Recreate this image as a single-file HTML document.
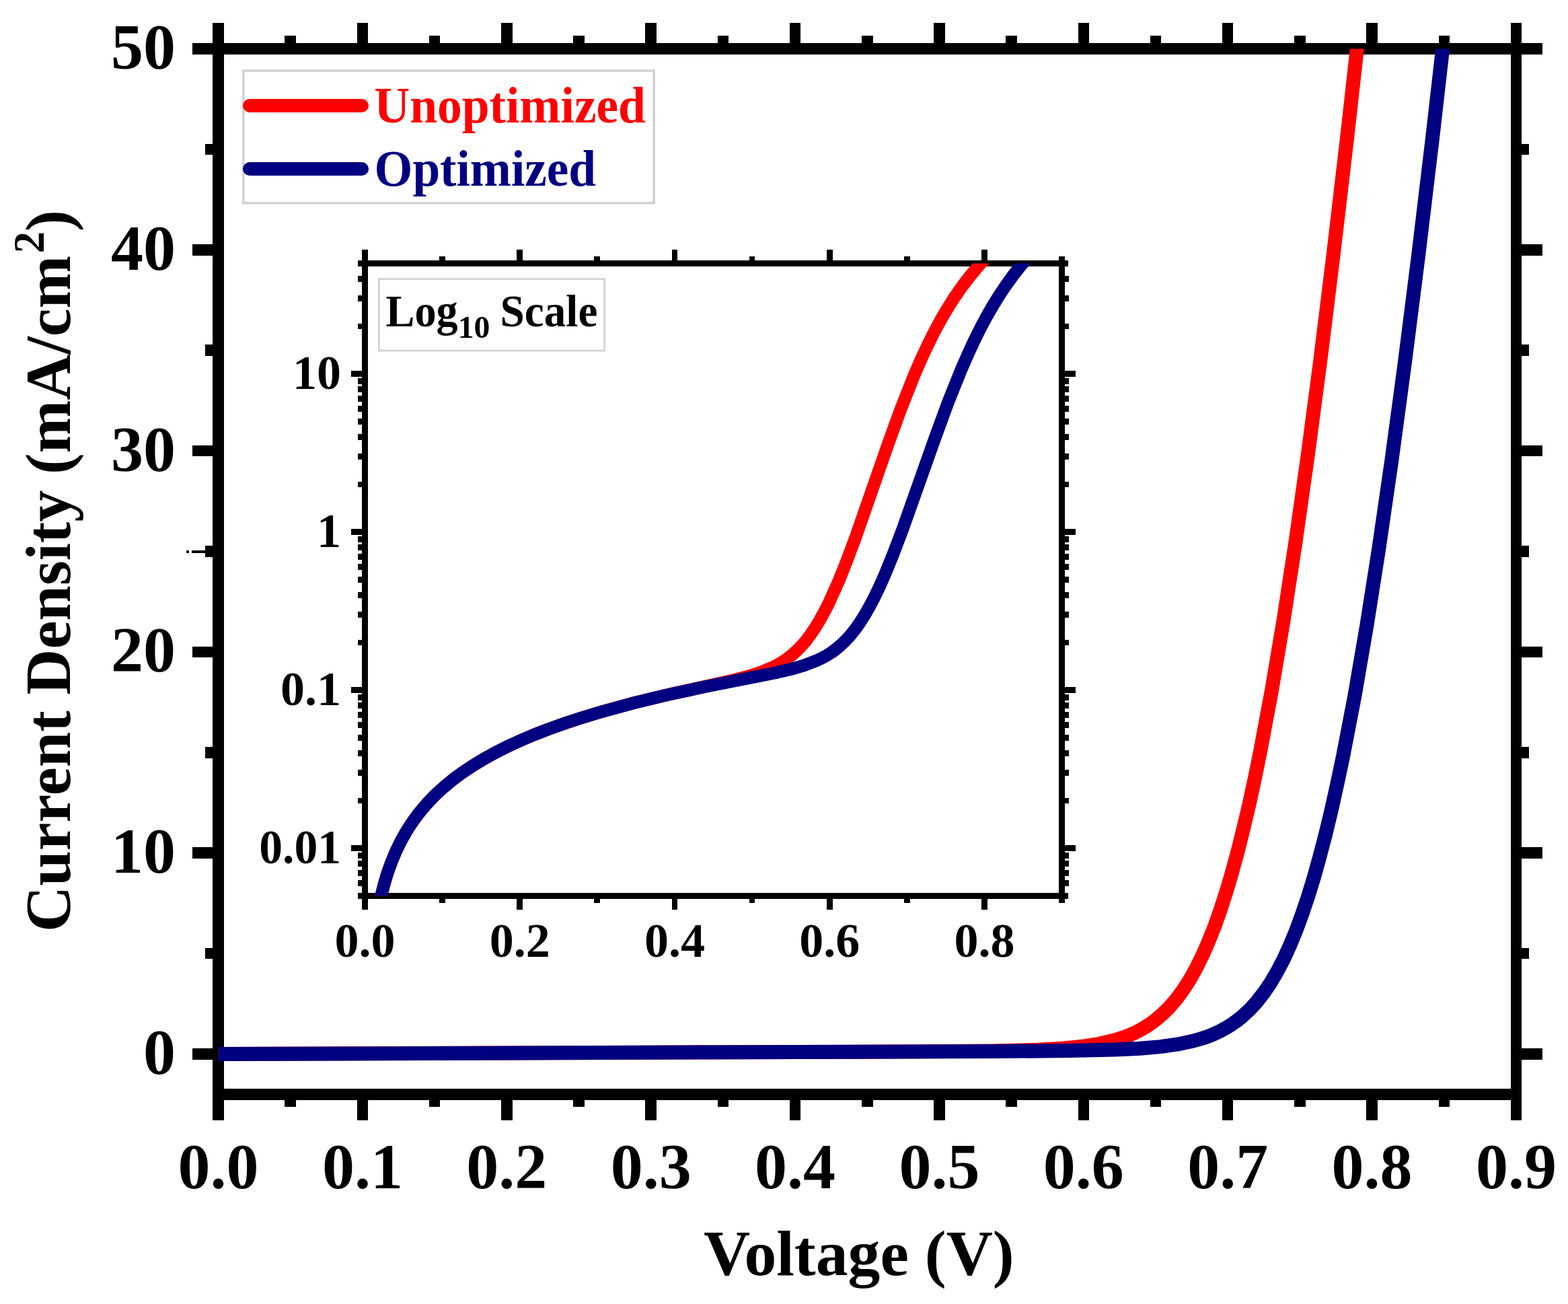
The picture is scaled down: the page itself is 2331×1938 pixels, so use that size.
<!DOCTYPE html>
<html><head><meta charset="utf-8"><title>J-V curves</title>
<style>html,body{margin:0;padding:0;background:#fff;} svg{display:block;}</style>
</head><body>
<svg width="2331" height="1938" viewBox="0 0 2331 1938"><rect width="100%" height="100%" fill="#fff"/><defs><clipPath id="cm"><rect x="324.5" y="72.5" width="1929.5" height="1554"/></clipPath><clipPath id="ci"><rect x="542.5" y="391.5" width="1036" height="940"/></clipPath></defs>
<rect x="316.00" y="34.00" width="17.00" height="1631.00" fill="#000"/>
<rect x="2246.00" y="34.00" width="16.00" height="1631.00" fill="#000"/>
<rect x="286.00" y="64.00" width="2007.00" height="17.00" fill="#000"/>
<rect x="316.00" y="1618.00" width="1946.00" height="17.00" fill="#000"/>
<rect x="531.00" y="34.00" width="16.00" height="30.00" fill="#000"/>
<rect x="531.00" y="1635.00" width="16.00" height="30.00" fill="#000"/>
<rect x="745.00" y="34.00" width="17.00" height="30.00" fill="#000"/>
<rect x="745.00" y="1635.00" width="17.00" height="30.00" fill="#000"/>
<rect x="959.00" y="34.00" width="17.00" height="30.00" fill="#000"/>
<rect x="959.00" y="1635.00" width="17.00" height="30.00" fill="#000"/>
<rect x="1174.00" y="34.00" width="16.00" height="30.00" fill="#000"/>
<rect x="1174.00" y="1635.00" width="16.00" height="30.00" fill="#000"/>
<rect x="1388.00" y="34.00" width="17.00" height="30.00" fill="#000"/>
<rect x="1388.00" y="1635.00" width="17.00" height="30.00" fill="#000"/>
<rect x="1603.00" y="34.00" width="16.00" height="30.00" fill="#000"/>
<rect x="1603.00" y="1635.00" width="16.00" height="30.00" fill="#000"/>
<rect x="1817.00" y="34.00" width="16.00" height="30.00" fill="#000"/>
<rect x="1817.00" y="1635.00" width="16.00" height="30.00" fill="#000"/>
<rect x="2031.00" y="34.00" width="17.00" height="30.00" fill="#000"/>
<rect x="2031.00" y="1635.00" width="17.00" height="30.00" fill="#000"/>
<rect x="423.00" y="53.00" width="17.00" height="11.00" fill="#000"/>
<rect x="423.00" y="1635.00" width="17.00" height="10.00" fill="#000"/>
<rect x="638.00" y="53.00" width="16.00" height="11.00" fill="#000"/>
<rect x="638.00" y="1635.00" width="16.00" height="10.00" fill="#000"/>
<rect x="852.00" y="53.00" width="17.00" height="11.00" fill="#000"/>
<rect x="852.00" y="1635.00" width="17.00" height="10.00" fill="#000"/>
<rect x="1067.00" y="53.00" width="16.00" height="11.00" fill="#000"/>
<rect x="1067.00" y="1635.00" width="16.00" height="10.00" fill="#000"/>
<rect x="1281.00" y="53.00" width="17.00" height="11.00" fill="#000"/>
<rect x="1281.00" y="1635.00" width="17.00" height="10.00" fill="#000"/>
<rect x="1495.00" y="53.00" width="17.00" height="11.00" fill="#000"/>
<rect x="1495.00" y="1635.00" width="17.00" height="10.00" fill="#000"/>
<rect x="1710.00" y="53.00" width="16.00" height="11.00" fill="#000"/>
<rect x="1710.00" y="1635.00" width="16.00" height="10.00" fill="#000"/>
<rect x="1924.00" y="53.00" width="17.00" height="11.00" fill="#000"/>
<rect x="1924.00" y="1635.00" width="17.00" height="10.00" fill="#000"/>
<rect x="2139.00" y="53.00" width="16.00" height="11.00" fill="#000"/>
<rect x="2139.00" y="1635.00" width="16.00" height="10.00" fill="#000"/>
<rect x="286.00" y="1558.00" width="30.00" height="17.00" fill="#000"/>
<rect x="2262.00" y="1558.00" width="31.00" height="17.00" fill="#000"/>
<rect x="286.00" y="1259.00" width="30.00" height="17.00" fill="#000"/>
<rect x="2262.00" y="1259.00" width="31.00" height="17.00" fill="#000"/>
<rect x="286.00" y="961.00" width="30.00" height="16.00" fill="#000"/>
<rect x="2262.00" y="961.00" width="31.00" height="16.00" fill="#000"/>
<rect x="286.00" y="662.00" width="30.00" height="16.00" fill="#000"/>
<rect x="2262.00" y="662.00" width="31.00" height="16.00" fill="#000"/>
<rect x="286.00" y="363.00" width="30.00" height="17.00" fill="#000"/>
<rect x="2262.00" y="363.00" width="31.00" height="17.00" fill="#000"/>
<rect x="305.00" y="1409.00" width="11.00" height="16.00" fill="#000"/>
<rect x="2262.00" y="1409.00" width="11.00" height="16.00" fill="#000"/>
<rect x="305.00" y="1110.00" width="11.00" height="17.00" fill="#000"/>
<rect x="2262.00" y="1110.00" width="11.00" height="17.00" fill="#000"/>
<rect x="305.00" y="811.00" width="11.00" height="17.00" fill="#000"/>
<rect x="2262.00" y="811.00" width="11.00" height="17.00" fill="#000"/>
<rect x="305.00" y="512.00" width="11.00" height="17.00" fill="#000"/>
<rect x="2262.00" y="512.00" width="11.00" height="17.00" fill="#000"/>
<rect x="305.00" y="214.00" width="11.00" height="16.00" fill="#000"/>
<rect x="2262.00" y="214.00" width="11.00" height="16.00" fill="#000"/>
<path clip-path="url(#cm)" d="M303.1,1566.6 L1370.1,1562.8 L1477.2,1561.9 L1543.0,1560.2 L1579.0,1558.2 L1608.8,1555.3 L1634.3,1551.3 L1656.7,1546.1 L1667.0,1542.9 L1676.8,1539.3 L1686.1,1535.3 L1695.0,1530.8 L1703.5,1525.9 L1711.6,1520.5 L1719.4,1514.6 L1727.1,1508.1 L1738.2,1497.2 L1748.9,1484.8 L1759.1,1470.9 L1768.9,1455.6 L1778.4,1438.6 L1787.7,1419.7 L1796.7,1399.2 L1805.6,1376.9 L1814.3,1352.2 L1822.9,1325.7 L1831.5,1296.7 L1840.0,1265.4 L1848.3,1232.3 L1856.8,1196.3 L1865.2,1157.8 L1873.5,1117.0 L1890.6,1025.7 L1908.1,921.8 L1925.8,806.5 L1944.1,677.4 L1963.0,534.1 L1982.4,376.7 L2002.8,203.1 L2024.0,13.1" fill="none" stroke="#ff0000" stroke-width="21" stroke-linejoin="round"/>
<path clip-path="url(#cm)" d="M303.1,1566.6 L1478.3,1562.5 L1589.4,1561.6 L1656.7,1560.1 L1694.2,1558.3 L1724.9,1555.6 L1751.1,1551.9 L1774.0,1547.0 L1784.7,1544.0 L1794.7,1540.7 L1804.2,1536.9 L1813.2,1532.8 L1821.9,1528.1 L1830.2,1523.0 L1838.2,1517.4 L1845.9,1511.4 L1857.4,1500.8 L1868.4,1488.8 L1878.9,1475.3 L1889.1,1460.3 L1898.9,1443.5 L1908.5,1425.1 L1917.7,1404.9 L1926.8,1382.9 L1935.8,1358.4 L1944.7,1332.0 L1953.4,1303.6 L1962.0,1272.7 L1970.7,1239.5 L1979.3,1203.7 L1987.8,1165.5 L1996.4,1125.0 L2013.9,1033.9 L2031.8,929.9 L2050.0,814.0 L2068.9,683.7 L2088.2,540.4 L2108.5,380.4 L2129.4,205.9 L2151.3,14.4" fill="none" stroke="#000080" stroke-width="21" stroke-linejoin="round"/>
<rect x="285.00" y="818.00" width="20.00" height="4.00" fill="#000"/>
<rect x="277.00" y="818.00" width="4.00" height="4.00" fill="#000"/>
<text x="324.50" y="1766" text-anchor="middle" font-size="96" font-family="'Liberation Serif', 'Times New Roman', serif" font-weight="bold">0.0</text>
<text x="538.89" y="1766" text-anchor="middle" font-size="96" font-family="'Liberation Serif', 'Times New Roman', serif" font-weight="bold">0.1</text>
<text x="753.28" y="1766" text-anchor="middle" font-size="96" font-family="'Liberation Serif', 'Times New Roman', serif" font-weight="bold">0.2</text>
<text x="967.67" y="1766" text-anchor="middle" font-size="96" font-family="'Liberation Serif', 'Times New Roman', serif" font-weight="bold">0.3</text>
<text x="1182.06" y="1766" text-anchor="middle" font-size="96" font-family="'Liberation Serif', 'Times New Roman', serif" font-weight="bold">0.4</text>
<text x="1396.44" y="1766" text-anchor="middle" font-size="96" font-family="'Liberation Serif', 'Times New Roman', serif" font-weight="bold">0.5</text>
<text x="1610.83" y="1766" text-anchor="middle" font-size="96" font-family="'Liberation Serif', 'Times New Roman', serif" font-weight="bold">0.6</text>
<text x="1825.22" y="1766" text-anchor="middle" font-size="96" font-family="'Liberation Serif', 'Times New Roman', serif" font-weight="bold">0.7</text>
<text x="2039.61" y="1766" text-anchor="middle" font-size="96" font-family="'Liberation Serif', 'Times New Roman', serif" font-weight="bold">0.8</text>
<text x="2254.00" y="1766" text-anchor="middle" font-size="96" font-family="'Liberation Serif', 'Times New Roman', serif" font-weight="bold">0.9</text>
<text x="261" y="1596.00" text-anchor="end" font-size="96" font-family="'Liberation Serif', 'Times New Roman', serif" font-weight="bold">0</text>
<text x="261" y="1297.20" text-anchor="end" font-size="96" font-family="'Liberation Serif', 'Times New Roman', serif" font-weight="bold">10</text>
<text x="261" y="998.40" text-anchor="end" font-size="96" font-family="'Liberation Serif', 'Times New Roman', serif" font-weight="bold">20</text>
<text x="261" y="699.60" text-anchor="end" font-size="96" font-family="'Liberation Serif', 'Times New Roman', serif" font-weight="bold">30</text>
<text x="261" y="400.80" text-anchor="end" font-size="96" font-family="'Liberation Serif', 'Times New Roman', serif" font-weight="bold">40</text>
<text x="261" y="102.00" text-anchor="end" font-size="96" font-family="'Liberation Serif', 'Times New Roman', serif" font-weight="bold">50</text>
<text x="1046.1" y="1894.8" font-size="96" textLength="461.6" lengthAdjust="spacingAndGlyphs" font-family="'Liberation Serif', 'Times New Roman', serif" font-weight="bold">Voltage (V)</text>
<text transform="translate(104,1380) rotate(-90)" font-size="96" font-family="'Liberation Serif', 'Times New Roman', serif" font-weight="bold"><tspan x="-5" y="0" textLength="1005.2" lengthAdjust="spacingAndGlyphs">Current Density (mA/cm</tspan><tspan x="1003.4" y="-39" font-size="65">2</tspan><tspan x="1036" y="0">)</tspan></text>
<rect x="361.8" y="105.1" width="610.3" height="196.7" fill="none" stroke="#d2d2d2" stroke-width="3.6"/>
<line x1="371" y1="157" x2="538" y2="157" stroke="#ff0000" stroke-width="20" stroke-linecap="round"/>
<line x1="371" y1="251" x2="538" y2="251" stroke="#000080" stroke-width="20" stroke-linecap="round"/>
<text x="556.2" y="182.3" font-size="77" textLength="403.7" lengthAdjust="spacingAndGlyphs" fill="#ff0000" font-family="'Liberation Serif', 'Times New Roman', serif" font-weight="bold">Unoptimized</text>
<text x="556.4" y="275.5" font-size="77" textLength="329.65" lengthAdjust="spacingAndGlyphs" fill="#000080" font-family="'Liberation Serif', 'Times New Roman', serif" font-weight="bold">Optimized</text>
<rect x="538.00" y="371.00" width="9.00" height="981.00" fill="#000"/>
<rect x="1574.00" y="381.00" width="9.00" height="961.00" fill="#000"/>
<rect x="532.00" y="387.00" width="1056.00" height="9.00" fill="#000"/>
<rect x="532.00" y="1327.00" width="1056.00" height="9.00" fill="#000"/>
<rect x="653.00" y="381.00" width="9.00" height="6.00" fill="#000"/>
<rect x="653.00" y="1336.00" width="9.00" height="6.00" fill="#000"/>
<rect x="768.00" y="371.00" width="9.00" height="16.00" fill="#000"/>
<rect x="768.00" y="1336.00" width="9.00" height="16.00" fill="#000"/>
<rect x="883.00" y="381.00" width="9.00" height="6.00" fill="#000"/>
<rect x="883.00" y="1336.00" width="9.00" height="6.00" fill="#000"/>
<rect x="999.00" y="371.00" width="8.00" height="16.00" fill="#000"/>
<rect x="999.00" y="1336.00" width="8.00" height="16.00" fill="#000"/>
<rect x="1114.00" y="381.00" width="8.00" height="6.00" fill="#000"/>
<rect x="1114.00" y="1336.00" width="8.00" height="6.00" fill="#000"/>
<rect x="1229.00" y="371.00" width="9.00" height="16.00" fill="#000"/>
<rect x="1229.00" y="1336.00" width="9.00" height="16.00" fill="#000"/>
<rect x="1344.00" y="381.00" width="9.00" height="6.00" fill="#000"/>
<rect x="1344.00" y="1336.00" width="9.00" height="6.00" fill="#000"/>
<rect x="1459.00" y="371.00" width="9.00" height="16.00" fill="#000"/>
<rect x="1459.00" y="1336.00" width="9.00" height="16.00" fill="#000"/>
<rect x="532.00" y="1308.00" width="6.00" height="9.00" fill="#000"/>
<rect x="1583.00" y="1308.00" width="6.00" height="9.00" fill="#000"/>
<rect x="532.00" y="1293.00" width="6.00" height="9.00" fill="#000"/>
<rect x="1583.00" y="1293.00" width="6.00" height="9.00" fill="#000"/>
<rect x="532.00" y="1279.00" width="6.00" height="9.00" fill="#000"/>
<rect x="1583.00" y="1279.00" width="6.00" height="9.00" fill="#000"/>
<rect x="532.00" y="1267.00" width="6.00" height="9.00" fill="#000"/>
<rect x="1583.00" y="1267.00" width="6.00" height="9.00" fill="#000"/>
<rect x="522.00" y="1256.00" width="16.00" height="9.00" fill="#000"/>
<rect x="1583.00" y="1256.00" width="16.00" height="9.00" fill="#000"/>
<rect x="532.00" y="1186.00" width="6.00" height="8.00" fill="#000"/>
<rect x="1583.00" y="1186.00" width="6.00" height="8.00" fill="#000"/>
<rect x="532.00" y="1144.00" width="6.00" height="9.00" fill="#000"/>
<rect x="1583.00" y="1144.00" width="6.00" height="9.00" fill="#000"/>
<rect x="532.00" y="1115.00" width="6.00" height="9.00" fill="#000"/>
<rect x="1583.00" y="1115.00" width="6.00" height="9.00" fill="#000"/>
<rect x="532.00" y="1092.00" width="6.00" height="9.00" fill="#000"/>
<rect x="1583.00" y="1092.00" width="6.00" height="9.00" fill="#000"/>
<rect x="532.00" y="1073.00" width="6.00" height="9.00" fill="#000"/>
<rect x="1583.00" y="1073.00" width="6.00" height="9.00" fill="#000"/>
<rect x="532.00" y="1058.00" width="6.00" height="9.00" fill="#000"/>
<rect x="1583.00" y="1058.00" width="6.00" height="9.00" fill="#000"/>
<rect x="532.00" y="1044.00" width="6.00" height="9.00" fill="#000"/>
<rect x="1583.00" y="1044.00" width="6.00" height="9.00" fill="#000"/>
<rect x="532.00" y="1032.00" width="6.00" height="9.00" fill="#000"/>
<rect x="1583.00" y="1032.00" width="6.00" height="9.00" fill="#000"/>
<rect x="522.00" y="1021.00" width="16.00" height="9.00" fill="#000"/>
<rect x="1583.00" y="1021.00" width="16.00" height="9.00" fill="#000"/>
<rect x="532.00" y="951.00" width="6.00" height="8.00" fill="#000"/>
<rect x="1583.00" y="951.00" width="6.00" height="8.00" fill="#000"/>
<rect x="532.00" y="909.00" width="6.00" height="9.00" fill="#000"/>
<rect x="1583.00" y="909.00" width="6.00" height="9.00" fill="#000"/>
<rect x="532.00" y="880.00" width="6.00" height="9.00" fill="#000"/>
<rect x="1583.00" y="880.00" width="6.00" height="9.00" fill="#000"/>
<rect x="532.00" y="857.00" width="6.00" height="9.00" fill="#000"/>
<rect x="1583.00" y="857.00" width="6.00" height="9.00" fill="#000"/>
<rect x="532.00" y="838.00" width="6.00" height="9.00" fill="#000"/>
<rect x="1583.00" y="838.00" width="6.00" height="9.00" fill="#000"/>
<rect x="532.00" y="823.00" width="6.00" height="9.00" fill="#000"/>
<rect x="1583.00" y="823.00" width="6.00" height="9.00" fill="#000"/>
<rect x="532.00" y="809.00" width="6.00" height="9.00" fill="#000"/>
<rect x="1583.00" y="809.00" width="6.00" height="9.00" fill="#000"/>
<rect x="532.00" y="797.00" width="6.00" height="9.00" fill="#000"/>
<rect x="1583.00" y="797.00" width="6.00" height="9.00" fill="#000"/>
<rect x="522.00" y="786.00" width="16.00" height="9.00" fill="#000"/>
<rect x="1583.00" y="786.00" width="16.00" height="9.00" fill="#000"/>
<rect x="532.00" y="716.00" width="6.00" height="8.00" fill="#000"/>
<rect x="1583.00" y="716.00" width="6.00" height="8.00" fill="#000"/>
<rect x="532.00" y="674.00" width="6.00" height="9.00" fill="#000"/>
<rect x="1583.00" y="674.00" width="6.00" height="9.00" fill="#000"/>
<rect x="532.00" y="645.00" width="6.00" height="9.00" fill="#000"/>
<rect x="1583.00" y="645.00" width="6.00" height="9.00" fill="#000"/>
<rect x="532.00" y="622.00" width="6.00" height="9.00" fill="#000"/>
<rect x="1583.00" y="622.00" width="6.00" height="9.00" fill="#000"/>
<rect x="532.00" y="603.00" width="6.00" height="9.00" fill="#000"/>
<rect x="1583.00" y="603.00" width="6.00" height="9.00" fill="#000"/>
<rect x="532.00" y="588.00" width="6.00" height="9.00" fill="#000"/>
<rect x="1583.00" y="588.00" width="6.00" height="9.00" fill="#000"/>
<rect x="532.00" y="574.00" width="6.00" height="9.00" fill="#000"/>
<rect x="1583.00" y="574.00" width="6.00" height="9.00" fill="#000"/>
<rect x="532.00" y="562.00" width="6.00" height="9.00" fill="#000"/>
<rect x="1583.00" y="562.00" width="6.00" height="9.00" fill="#000"/>
<rect x="522.00" y="551.00" width="16.00" height="9.00" fill="#000"/>
<rect x="1583.00" y="551.00" width="16.00" height="9.00" fill="#000"/>
<rect x="532.00" y="481.00" width="6.00" height="8.00" fill="#000"/>
<rect x="1583.00" y="481.00" width="6.00" height="8.00" fill="#000"/>
<rect x="532.00" y="439.00" width="6.00" height="9.00" fill="#000"/>
<rect x="1583.00" y="439.00" width="6.00" height="9.00" fill="#000"/>
<rect x="532.00" y="410.00" width="6.00" height="9.00" fill="#000"/>
<rect x="1583.00" y="410.00" width="6.00" height="9.00" fill="#000"/>
<path clip-path="url(#ci)" d="M561.8,1354.1 L565.8,1334.9 L570.3,1316.9 L575.3,1299.8 L581.0,1283.6 L587.2,1268.3 L594.1,1253.7 L601.6,1239.7 L609.9,1226.3 L619.0,1213.5 L628.7,1201.2 L639.4,1189.3 L650.9,1177.9 L663.2,1166.9 L676.4,1156.3 L690.6,1146.0 L705.8,1136.1 L721.4,1126.7 L738.0,1117.7 L755.6,1108.9 L774.2,1100.3 L793.8,1092.0 L814.5,1084.0 L836.4,1076.1 L859.4,1068.4 L899.6,1056.2 L943.3,1044.4 L994.0,1032.2 L1091.1,1010.6 L1113.3,1004.8 L1131.3,999.0 L1148.8,991.7 L1156.7,987.6 L1164.0,983.2 L1171.1,978.4 L1177.7,973.2 L1184.1,967.4 L1190.4,961.1 L1197.7,952.8 L1204.7,943.5 L1211.6,933.3 L1218.5,922.0 L1225.4,909.5 L1232.4,895.7 L1246.8,863.7 L1259.0,833.1 L1272.7,796.4 L1320.1,660.3 L1339.2,607.7 L1358.9,558.0 L1368.3,536.2 L1377.7,515.8 L1387.8,495.4 L1398.0,476.3 L1408.5,458.4 L1419.2,441.6 L1430.4,425.5 L1442.1,410.2 L1454.2,395.7 L1466.8,382.0" fill="none" stroke="#ff0000" stroke-width="18.7" stroke-linejoin="round"/>
<path clip-path="url(#ci)" d="M561.8,1354.1 L566.0,1333.9 L570.8,1315.0 L576.1,1297.3 L582.2,1280.5 L588.9,1264.5 L596.3,1249.3 L604.6,1234.8 L613.5,1221.0 L623.4,1207.7 L634.2,1195.0 L645.8,1182.7 L658.4,1171.0 L672.1,1159.6 L686.7,1148.7 L702.4,1138.2 L719.2,1128.0 L736.6,1118.4 L755.2,1109.1 L774.9,1100.0 L795.8,1091.2 L817.9,1082.7 L841.3,1074.4 L866.0,1066.3 L892.0,1058.4 L938.4,1045.7 L989.0,1033.4 L1046.8,1020.9 L1152.9,999.9 L1176.3,994.4 L1195.0,989.0 L1213.2,982.1 L1221.3,978.3 L1229.0,974.1 L1236.2,969.6 L1243.0,964.6 L1249.6,959.0 L1256.0,953.0 L1263.6,944.8 L1271.1,935.5 L1278.3,925.3 L1285.6,913.9 L1292.8,901.2 L1300.1,887.3 L1307.4,871.9 L1315.1,854.7 L1327.8,823.6 L1342.0,786.2 L1390.5,649.5 L1409.6,597.6 L1429.0,549.3 L1438.3,527.9 L1447.4,508.1 L1456.8,489.1 L1466.2,471.3 L1475.9,454.5 L1485.7,438.6 L1495.9,423.4 L1506.5,408.8 L1517.5,394.9 L1528.8,381.8" fill="none" stroke="#000080" stroke-width="18.7" stroke-linejoin="round"/>
<text x="542.50" y="1421.5" text-anchor="middle" font-size="72" font-family="'Liberation Serif', 'Times New Roman', serif" font-weight="bold">0.0</text>
<text x="772.72" y="1421.5" text-anchor="middle" font-size="72" font-family="'Liberation Serif', 'Times New Roman', serif" font-weight="bold">0.2</text>
<text x="1002.94" y="1421.5" text-anchor="middle" font-size="72" font-family="'Liberation Serif', 'Times New Roman', serif" font-weight="bold">0.4</text>
<text x="1233.17" y="1421.5" text-anchor="middle" font-size="72" font-family="'Liberation Serif', 'Times New Roman', serif" font-weight="bold">0.6</text>
<text x="1463.39" y="1421.5" text-anchor="middle" font-size="72" font-family="'Liberation Serif', 'Times New Roman', serif" font-weight="bold">0.8</text>
<text x="507" y="1283.26" text-anchor="end" font-size="72" textLength="121.8" lengthAdjust="spacingAndGlyphs" font-family="'Liberation Serif', 'Times New Roman', serif" font-weight="bold">0.01</text>
<text x="507" y="1048.26" text-anchor="end" font-size="72" font-family="'Liberation Serif', 'Times New Roman', serif" font-weight="bold">0.1</text>
<text x="507" y="813.26" text-anchor="end" font-size="72" font-family="'Liberation Serif', 'Times New Roman', serif" font-weight="bold">1</text>
<text x="507" y="578.26" text-anchor="end" font-size="72" font-family="'Liberation Serif', 'Times New Roman', serif" font-weight="bold">10</text>
<rect x="563.4" y="414.6" width="335.2" height="106.5" fill="none" stroke="#d2d2d2" stroke-width="2.8"/>
<text x="573.6" y="485.4" font-size="68" textLength="107.14" lengthAdjust="spacingAndGlyphs" font-family="'Liberation Serif', 'Times New Roman', serif" font-weight="bold">Log</text>
<text x="680.7" y="502" font-size="46" textLength="47.76" lengthAdjust="spacingAndGlyphs" font-family="'Liberation Serif', 'Times New Roman', serif" font-weight="bold">10</text>
<text x="743.5" y="485.4" font-size="68" textLength="144.95" lengthAdjust="spacingAndGlyphs" font-family="'Liberation Serif', 'Times New Roman', serif" font-weight="bold">Scale</text></svg>
</body></html>
